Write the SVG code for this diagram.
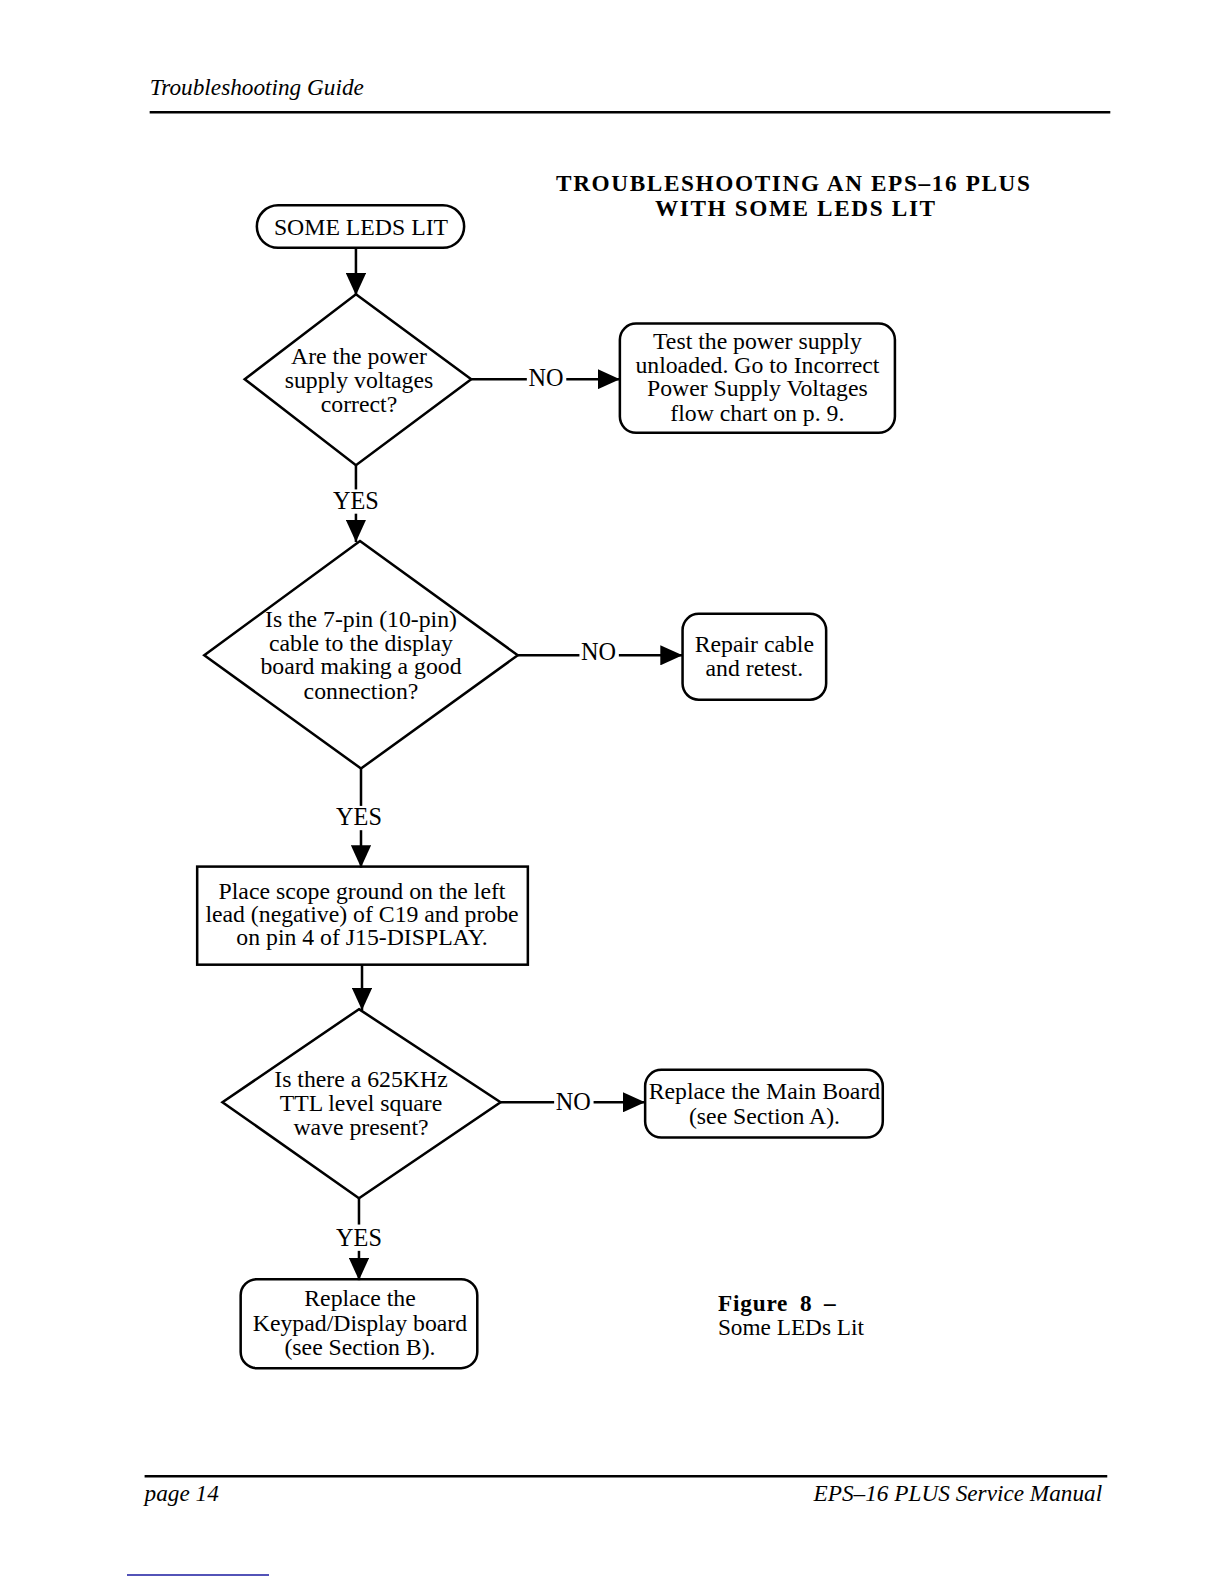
<svg xmlns="http://www.w3.org/2000/svg" width="1224" height="1584" viewBox="0 0 1224 1584">
<defs>
<style>
.t{font-family:"Liberation Serif","Times New Roman",serif;font-size:23.5px;fill:#000;text-anchor:middle}
.lb{font-family:"Liberation Serif","Times New Roman",serif;font-size:24px;fill:#000;text-anchor:middle}
.shape{fill:#fff;stroke:#000;stroke-width:2.5}
.conn line{stroke:#000;stroke-width:2.5}
.it{font-family:"Liberation Serif","Times New Roman",serif;font-style:italic;font-size:23px;fill:#000}
.ttl{font-family:"Liberation Serif","Times New Roman",serif;font-weight:bold;font-size:23px;letter-spacing:1.6px;fill:#000;text-anchor:middle}
</style>
<marker id="ah" viewBox="0 0 22 20" refX="22" refY="10" markerWidth="22" markerHeight="20" markerUnits="userSpaceOnUse" orient="auto">
<path d="M0,0 L22,10 L0,20 z" fill="#000"/>
</marker>
</defs>
<rect width="1224" height="1584" fill="#fff"/>
<g id="page" transform="scale(1.0112)">
<text class="it" x="148" y="94" font-size="24">Troubleshooting Guide</text>
<line x1="148" y1="111" x2="1098" y2="111" stroke="#000" stroke-width="2.5"/>

<text class="ttl" x="785" y="189">TROUBLESHOOTING AN EPS–16 PLUS</text>
<text class="ttl" x="787" y="214">WITH SOME LEDS LIT</text>

<g id="start">
<rect class="shape" x="254" y="203" width="205" height="42" rx="21"/>
<text class="t" x="357" y="232" font-size="23">SOME LEDS LIT</text>
</g>

<g id="q1">
<polygon class="shape" points="352,291 466,375 352,460 242,375"/>
<text class="t" x="355" y="360">Are the power</text>
<text class="t" x="355" y="384">supply voltages</text>
<text class="t" x="355" y="407">correct?</text>
</g>

<g id="a1">
<rect class="shape" x="613" y="320" width="272" height="108" rx="16"/>
<text class="t" x="749" y="345">Test the power supply</text>
<text class="t" x="749" y="369">unloaded.  Go to Incorrect</text>
<text class="t" x="749" y="392">Power Supply Voltages</text>
<text class="t" x="749" y="416">flow chart on p. 9.</text>
</g>

<g id="q2">
<polygon class="shape" points="356,535 512,648 357,760 202,648"/>
<text class="t" x="357" y="620">Is the 7-pin (10-pin)</text>
<text class="t" x="357" y="644">cable to the display</text>
<text class="t" x="357" y="667">board making a good</text>
<text class="t" x="357" y="691">connection?</text>
</g>

<g id="a2">
<rect class="shape" x="675" y="607" width="142" height="85" rx="16"/>
<text class="t" x="746" y="645">Repair cable</text>
<text class="t" x="746" y="669">and retest.</text>
</g>

<g id="scope">
<rect class="shape" x="195" y="857" width="327" height="97"/>
<text class="t" x="358" y="889">Place scope ground on the left</text>
<text class="t" x="358" y="912">lead (negative) of C19 and probe</text>
<text class="t" x="358" y="935">on pin 4 of J15-DISPLAY.</text>
</g>

<g id="q3">
<polygon class="shape" points="355,998 495,1090 355,1185 220,1090"/>
<text class="t" x="357" y="1075">Is there a 625KHz</text>
<text class="t" x="357" y="1099">TTL level square</text>
<text class="t" x="357" y="1122">wave present?</text>
</g>

<g id="a3">
<rect class="shape" x="638" y="1058" width="235" height="67" rx="16"/>
<text class="t" x="756" y="1087">Replace the Main Board</text>
<text class="t" x="756" y="1112">(see Section A).</text>
</g>

<g id="end">
<rect class="shape" x="238" y="1265" width="234" height="88" rx="16"/>
<text class="t" x="356" y="1292">Replace the</text>
<text class="t" x="356" y="1316">Keypad/Display board</text>
<text class="t" x="356" y="1340">(see Section B).</text>
</g>

<g class="conn" id="connectors">
<line x1="352" y1="246" x2="352" y2="292" marker-end="url(#ah)"/>
<line x1="466" y1="375" x2="521" y2="375"/>
<text class="lb" x="540" y="382">NO</text>
<line x1="560" y1="375" x2="613" y2="375" marker-end="url(#ah)"/>
<line x1="352" y1="460" x2="352" y2="484"/>
<text class="lb" x="352" y="503">YES</text>
<line x1="352" y1="508" x2="352" y2="536" marker-end="url(#ah)"/>
<line x1="512" y1="648" x2="573" y2="648"/>
<text class="lb" x="592" y="653">NO</text>
<line x1="612" y1="648" x2="675" y2="648" marker-end="url(#ah)"/>
<line x1="357" y1="760" x2="357" y2="797"/>
<text class="lb" x="355" y="816">YES</text>
<line x1="357" y1="821" x2="357" y2="858" marker-end="url(#ah)"/>
<line x1="358" y1="954" x2="358" y2="999" marker-end="url(#ah)"/>
<line x1="495" y1="1090" x2="548" y2="1090"/>
<text class="lb" x="567" y="1098">NO</text>
<line x1="587" y1="1090" x2="638" y2="1090" marker-end="url(#ah)"/>
<line x1="355" y1="1185" x2="355" y2="1211"/>
<text class="lb" x="355" y="1232">YES</text>
<line x1="355" y1="1237" x2="355" y2="1266" marker-end="url(#ah)"/>
</g>

<text x="710" y="1296" font-family="Liberation Serif, serif" font-weight="bold" font-size="23" letter-spacing="0.8" word-spacing="5">Figure 8 –</text>
<text x="710" y="1320" font-family="Liberation Serif, serif" font-size="23">Some LEDs Lit</text>

<line x1="143" y1="1460" x2="1095" y2="1460" stroke="#000" stroke-width="2.5"/>
<text class="it" x="143" y="1484">page 14</text>
<text class="it" x="1090" y="1484" text-anchor="end">EPS–16 PLUS Service Manual</text>
</g>
<line x1="127" y1="1575" x2="269" y2="1575" stroke="#1a1aa0" stroke-width="1.5"/>
</svg>
